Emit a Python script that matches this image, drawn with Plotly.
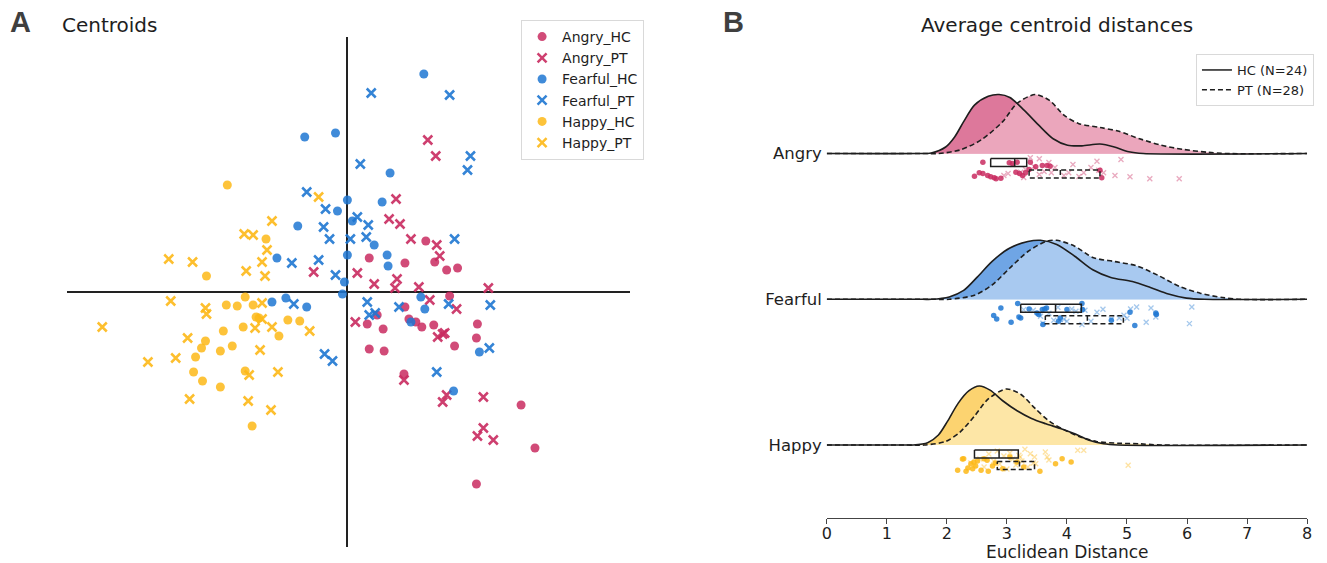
import plotly.graph_objects as go

# ---------------- Panel A: centroid coordinates (arbitrary units) ----------------
angry_hc_x = [7.9, 2.2, 5.8, 8.8, 10.0, 11.1, 10.3, 5.8, 3.0, 6.2, 6.9, 2.0, 3.6, 7.5, 8.7, 13.1, 13.0, 10.8, 2.2, 3.7, 5.7, 17.5, 18.9, 13.0]
angry_hc_y = [5.1, 3.4, 2.9, 3.0, 2.2, 2.4, -0.4, -1.5, -2.3, -2.7, -3.0, -3.2, -3.7, -3.5, -3.3, -3.2, -4.6, -5.4, -5.7, -5.9, -8.2, -11.3, -15.6, -19.2]

angry_pt_x = [4.9, 4.2, 5.3, 6.4, 9.0, 9.3, -3.4, 1.0, 2.7, 5.0, 4.8, 7.2, 8.3, 11.0, 14.2, 0.8, 9.1, 9.8, 8.1, 8.9, 5.7, 10.0, 9.6, 13.7, 13.7, 13.1, 14.7, 9.6]
angry_pt_y = [9.3, 7.3, 6.8, 5.3, 4.7, 3.6, 2.0, 1.9, 0.8, 1.3, 0.4, 0.5, -0.8, -1.7, 0.4, -3.0, -4.5, -4.1, 15.2, 13.6, -8.8, -10.3, -11.0, -10.5, -13.6, -14.4, -14.8, -4.2]

fearful_hc_x = [7.7, -4.3, -1.2, 4.3, 0.0, -1.0, 3.5, 0.5, -5.0, 2.7, 0.0, 4.0, 4.1, -7.1, -0.3, -0.5, -7.6, -6.2, -4.1, 7.4, 7.8, 6.4, 13.3, 10.7]
fearful_hc_y = [21.8, 15.5, 15.9, 11.9, 9.2, 8.1, 9.0, 7.1, 6.6, 4.7, 3.7, 3.7, 2.6, 3.4, 1.0, -0.2, -1.0, -0.6, -1.5, -0.5, -1.7, -3.0, -6.0, -9.9]

fearful_pt_x = [2.4, 10.3, 12.4, 12.1, 1.3, -4.1, -2.2, 1.0, 2.1, -2.4, -1.8, 0.3, 1.9, 10.8, -5.6, -2.9, -1.2, -5.4, 2.0, 2.2, 2.8, 5.2, 10.2, 14.4, 14.3, -2.3, -1.5, 9.0]
fearful_pt_y = [19.9, 19.7, 13.6, 12.2, 12.8, 10.0, 8.3, 7.5, 6.7, 6.5, 5.3, 5.3, 5.5, 5.3, 2.9, 3.2, 1.7, -1.2, -1.0, -2.3, -2.1, -1.5, -1.2, -1.3, -5.6, -6.2, -6.9, -8.0]

happy_hc_x = [-12.1, -8.2, -14.2, -10.3, -12.2, -11.1, -9.5, -9.2, -8.9, -10.5, -6.0, -4.8, -6.9, -12.5, -14.3, -14.7, -11.6, -12.8, -15.3, -15.5, -14.6, -12.8, -10.3, -9.6]
happy_hc_y = [10.7, 5.3, 1.6, -0.5, -1.3, -1.4, -1.3, -2.5, -2.6, -3.5, -2.8, -2.9, -4.4, -3.9, -4.9, -5.6, -5.4, -5.9, -6.5, -8.0, -8.9, -9.5, -7.9, -13.4]

happy_pt_x = [-2.9, -7.6, -10.4, -9.5, -8.1, -18.0, -15.6, -8.6, -10.2, -8.3, -17.8, -14.3, -14.2, -8.6, -8.6, -9.3, -7.6, -3.8, -24.7, -16.1, -17.3, -20.1, -8.8, -7.0, -9.9, -15.9, -10.0, -7.7]
happy_pt_y = [9.5, 7.1, 5.8, 5.7, 4.2, 3.3, 3.0, 3.0, 2.1, 1.6, -0.9, -1.6, -2.2, -1.1, -2.7, -3.6, -3.5, -3.9, -3.5, -4.6, -6.6, -7.0, -5.8, -8.0, -8.3, -10.7, -10.9, -11.8]

# ---------------- Panel B: distances ----------------
emotions = ["Angry", "Fearful", "Happy"]

angry_hc_dist = [2.60, 2.46, 2.54, 2.60, 2.68, 2.73, 2.79, 2.82, 2.90, 3.04, 3.09, 3.17, 3.15, 3.21, 3.26, 3.31, 3.37, 3.39, 3.48, 3.59, 3.67, 3.72, 4.58, 4.55]
angry_pt_dist = [3.39, 3.54, 4.50, 4.90, 3.02, 3.31, 3.23, 3.54, 3.74, 4.03, 4.28, 4.53, 4.61, 4.80, 5.05, 5.38, 5.87, 2.95, 3.10, 3.45, 3.62, 3.80, 3.95, 4.10, 4.20, 4.40, 3.70, 3.28]
fearful_hc_dist = [2.90, 2.78, 2.83, 3.07, 3.18, 3.20, 3.37, 3.50, 3.53, 3.59, 3.63, 3.66, 3.60, 3.86, 3.89, 4.00, 4.25, 4.26, 4.74, 5.05, 5.13, 5.48, 5.49, 3.23]
fearful_pt_dist = [3.44, 3.78, 3.89, 4.08, 4.50, 4.87, 5.06, 5.16, 5.32, 5.40, 5.48, 6.04, 6.08, 4.74, 4.25, 3.56, 4.00, 3.28, 3.70, 3.95, 4.15, 4.40, 4.60, 4.95, 3.60, 4.30, 5.00, 3.85]
happy_hc_dist = [2.18, 2.26, 2.28, 2.32, 2.35, 2.40, 2.43, 2.45, 2.48, 2.51, 2.57, 2.62, 2.67, 2.69, 2.76, 2.81, 2.93, 3.05, 3.17, 3.28, 3.55, 3.81, 3.92, 4.07]
happy_pt_dist = [2.40, 2.46, 2.55, 2.62, 2.70, 2.78, 2.84, 2.88, 2.95, 3.00, 3.05, 3.10, 3.15, 3.20, 3.22, 3.25, 3.30, 3.35, 3.39, 3.44, 3.46, 3.48, 3.64, 3.67, 3.70, 4.18, 4.28, 5.02]

# strip-plot jitter (offset below each row's baseline)
angry_hc_jit = [0.87, 2.27, 1.93, 2.0, 2.2, 2.33, 2.43, 2.53, 2.47, 0.93, 1.0, 0.87, 1.87, 2.0, 2.2, 1.93, 1.6, 0.87, 1.33, 1.2, 1.2, 1.27, 2.43, 1.67]
angry_pt_jit = [0.43, 0.53, 0.77, 0.6, 2.0, 1.6, 1.87, 2.1, 1.93, 1.93, 1.93, 1.67, 1.93, 2.2, 2.33, 2.53, 2.53, 2.2, 1.1, 1.3, 1.8, 1.4, 2.2, 1.1, 2.3, 1.4, 0.9, 2.4]
fearful_hc_jit = [0.87, 1.63, 1.97, 2.3, 0.43, 1.77, 0.97, 1.37, 1.53, 1.03, 0.97, 0.87, 2.53, 2.2, 1.87, 1.03, 0.43, 1.03, 2.1, 1.3, 2.63, 1.37, 1.53, 1.87]
fearful_pt_jit = [1.1, 2.1, 2.03, 0.97, 1.3, 1.87, 0.97, 0.77, 2.3, 0.87, 1.77, 2.43, 0.77, 1.97, 2.53, 1.7, 2.2, 1.03, 1.4, 2.0, 1.2, 2.2, 1.0, 1.6, 2.4, 1.1, 1.9, 0.8]
happy_hc_jit = [2.53, 1.4, 1.37, 2.63, 2.3, 1.87, 2.37, 1.7, 2.1, 1.6, 2.53, 1.37, 1.53, 2.63, 2.1, 1.8, 2.37, 1.2, 1.7, 2.2, 2.63, 1.87, 1.37, 1.7]
happy_pt_jit = [1.8, 2.03, 1.4, 2.2, 0.9, 1.6, 0.6, 1.9, 1.1, 2.4, 0.8, 1.4, 2.0, 1.03, 1.2, 1.6, 0.43, 2.2, 0.87, 1.8, 1.2, 1.87, 0.7, 1.2, 1.5, 0.53, 0.53, 2.03]

# box statistics (Angry, Fearful, Happy)
hc_q1 = [2.73, 3.23, 2.46]
hc_med = [3.13, 3.81, 2.87]
hc_q3 = [3.33, 4.24, 3.19]
pt_q1 = [3.37, 3.64, 2.84]
pt_med = [3.89, 4.34, 3.21]
pt_q3 = [4.55, 4.94, 3.46]

# density curves (relative density)
angry_hc_kx = [0, 1.5, 1.74, 1.98, 2.13, 2.28, 2.46, 2.69, 2.87, 3.05, 3.29, 3.53, 3.77, 4.01, 4.25, 4.55, 4.79, 5.03, 5.27, 8]
angry_hc_kd = [0, 0, 0.01, 0.11, 0.28, 0.54, 0.82, 0.97, 1.0, 0.95, 0.73, 0.48, 0.25, 0.14, 0.13, 0.16, 0.11, 0.03, 0.0, 0]
angry_pt_kx = [0, 1.6, 1.86, 2.22, 2.57, 2.93, 3.17, 3.47, 3.71, 3.95, 4.19, 4.55, 4.85, 5.21, 5.57, 5.93, 6.35, 6.65, 8]
angry_pt_kd = [0, 0, 0.0, 0.06, 0.23, 0.54, 0.85, 1.0, 0.90, 0.65, 0.51, 0.44, 0.38, 0.25, 0.14, 0.07, 0.02, 0, 0]
fearful_hc_kx = [0, 1.6, 1.74, 2.04, 2.28, 2.51, 2.75, 3.05, 3.35, 3.56, 3.83, 4.13, 4.43, 4.73, 5.09, 5.39, 5.69, 5.99, 6.29, 8]
fearful_hc_kd = [0, 0, 0.0, 0.04, 0.15, 0.38, 0.64, 0.87, 0.98, 1.0, 0.93, 0.73, 0.50, 0.37, 0.30, 0.20, 0.09, 0.02, 0, 0]
fearful_pt_kx = [0, 1.8, 2.04, 2.46, 2.75, 3.05, 3.35, 3.65, 3.83, 4.13, 4.43, 4.79, 5.15, 5.51, 5.87, 6.23, 6.59, 6.89, 8]
fearful_pt_kd = [0, 0, 0.0, 0.07, 0.24, 0.53, 0.81, 0.98, 1.0, 0.90, 0.71, 0.64, 0.57, 0.41, 0.22, 0.10, 0.03, 0, 0]
happy_hc_kx = [0, 1.3, 1.44, 1.68, 1.86, 2.01, 2.19, 2.37, 2.54, 2.72, 2.93, 3.17, 3.41, 3.65, 3.89, 4.13, 4.37, 4.61, 4.85, 8]
happy_hc_kd = [0, 0, 0.0, 0.04, 0.17, 0.40, 0.71, 0.92, 1.0, 0.93, 0.75, 0.58, 0.45, 0.36, 0.28, 0.19, 0.08, 0.02, 0, 0]
happy_pt_kx = [0, 1.4, 1.62, 1.98, 2.22, 2.46, 2.69, 2.99, 3.23, 3.47, 3.71, 3.95, 4.19, 4.49, 4.85, 5.21, 5.57, 8]
happy_pt_kd = [0, 0, 0.0, 0.06, 0.22, 0.49, 0.78, 0.95, 0.86, 0.62, 0.40, 0.26, 0.15, 0.06, 0.03, 0.02, 0, 0]

legend_b_labels = ["HC (N=24)", "PT (N=28)"]

# ---------------- styling ----------------
FONT = "DejaVu Sans"
INK = "#1e1e1e"
COL = {"Angry": "#c92b60", "Fearful": "#1f77d2", "Happy": "#fdb918"}
FILL_HC = {"Angry": "rgb(221,120,155)", "Fearful": "rgb(111,165,229)", "Happy": "rgb(252,211,112)"}
FILL_PT = {"Angry": "rgb(235,166,188)", "Fearful": "rgb(168,201,240)", "Happy": "rgb(253,230,166)"}
BASE = {"Angry": 36.45, "Fearful": 21.87, "Happy": 7.3}
DENS_H = 5.9
HC_BOX = (0.5, 1.3)
PT_BOX = (1.65, 2.45)
DASH = "5px,3px"

fig = go.Figure()

# ---- panel A scatter ----
sets_a = [
    ("Angry_HC", angry_hc_x, angry_hc_y, "Angry", "HC"),
    ("Angry_PT", angry_pt_x, angry_pt_y, "Angry", "PT"),
    ("Fearful_HC", fearful_hc_x, fearful_hc_y, "Fearful", "HC"),
    ("Fearful_PT", fearful_pt_x, fearful_pt_y, "Fearful", "PT"),
    ("Happy_HC", happy_hc_x, happy_hc_y, "Happy", "HC"),
    ("Happy_PT", happy_pt_x, happy_pt_y, "Happy", "PT"),
]
for name, xs, ys, emo, grp in sets_a:
    if grp == "HC":
        marker = dict(symbol="circle", size=9, color=COL[emo], opacity=0.85, line=dict(width=0))
    else:
        marker = dict(symbol="x-thin", size=9, color=COL[emo], opacity=0.9,
                      line=dict(width=2.5, color=COL[emo]))
    fig.add_trace(go.Scatter(x=xs, y=ys, mode="markers", name=name, marker=marker,
                             xaxis="x", yaxis="y", legend="legend", hoverinfo="skip"))

# ---- panel B raincloud ----
kde = {
    "Angry": (angry_hc_kx, angry_hc_kd, angry_pt_kx, angry_pt_kd),
    "Fearful": (fearful_hc_kx, fearful_hc_kd, fearful_pt_kx, fearful_pt_kd),
    "Happy": (happy_hc_kx, happy_hc_kd, happy_pt_kx, happy_pt_kd),
}
strips = {
    "Angry": (angry_hc_dist, angry_hc_jit, angry_pt_dist, angry_pt_jit),
    "Fearful": (fearful_hc_dist, fearful_hc_jit, fearful_pt_dist, fearful_pt_jit),
    "Happy": (happy_hc_dist, happy_hc_jit, happy_pt_dist, happy_pt_jit),
}
common = dict(xaxis="x2", yaxis="y2", showlegend=False, hoverinfo="skip")
for i, emo in enumerate(emotions):
    b = BASE[emo]
    hkx, hkd, pkx, pkd = kde[emo]
    hy = [b + DENS_H * d for d in hkd]
    py = [b + DENS_H * d for d in pkd]
    # fills
    fig.add_trace(go.Scatter(x=[0, 8], y=[b, b], mode="lines", line=dict(width=0), **common))
    fig.add_trace(go.Scatter(x=hkx, y=hy, mode="lines", line=dict(width=0, shape="spline", smoothing=0.8),
                             fill="tonexty", fillcolor=FILL_HC[emo], **common))
    fig.add_trace(go.Scatter(x=[0, 8], y=[b, b], mode="lines", line=dict(width=0), **common))
    fig.add_trace(go.Scatter(x=pkx, y=py, mode="lines", line=dict(width=0, shape="spline", smoothing=0.8),
                             fill="tonexty", fillcolor=FILL_PT[emo], **common))
    # outlines
    fig.add_trace(go.Scatter(x=pkx, y=py, mode="lines",
                             line=dict(color=INK, width=1.6, dash=DASH, shape="spline", smoothing=0.8), **common))
    fig.add_trace(go.Scatter(x=hkx, y=hy, mode="lines",
                             line=dict(color=INK, width=1.6, shape="spline", smoothing=0.8), **common))
    # strip points
    hd, hj, pd_, pj = strips[emo]
    fig.add_trace(go.Scatter(x=pd_, y=[b - j for j in pj], mode="markers",
                             marker=dict(symbol="x-thin", size=5, color=COL[emo], opacity=0.4,
                                         line=dict(width=1.3, color=COL[emo])), **common))
    fig.add_trace(go.Scatter(x=hd, y=[b - j for j in hj], mode="markers",
                             marker=dict(symbol="circle", size=5.5, color=COL[emo], opacity=0.85,
                                         line=dict(width=0)), **common))
    # boxes
    for q1, md, q3, (t, bt), dash in [
        (hc_q1[i], hc_med[i], hc_q3[i], HC_BOX, "solid"),
        (pt_q1[i], pt_med[i], pt_q3[i], PT_BOX, DASH),
    ]:
        yt, yb = b - t, b - bt
        fig.add_trace(go.Scatter(x=[q1, q3, q3, q1, q1, None, md, md],
                                 y=[yt, yt, yb, yb, yt, None, yt, yb], mode="lines",
                                 line=dict(color=INK, width=1.5, dash=dash), **common))

# legend B entries
fig.add_trace(go.Scatter(x=[None], y=[None], mode="lines", name=legend_b_labels[0],
                         line=dict(color=INK, width=1.5), xaxis="x2", yaxis="y2", legend="legend2"))
fig.add_trace(go.Scatter(x=[None], y=[None], mode="lines", name=legend_b_labels[1],
                         line=dict(color=INK, width=1.5, dash=DASH), xaxis="x2", yaxis="y2", legend="legend2"))

W, H = 1327, 563
fig.update_layout(
    width=W, height=H, autosize=False, margin=dict(l=0, r=0, t=0, b=0),
    paper_bgcolor="white", plot_bgcolor="white",
    font=dict(family=FONT, color=INK),
    xaxis=dict(domain=[62 / W, 630 / W], range=[-28.3, 28.5], anchor="y",
               showgrid=False, showticklabels=False, ticks="", showline=False,
               zeroline=True, zerolinecolor="#222", zerolinewidth=1.6, fixedrange=True),
    yaxis=dict(domain=[16 / H, 526 / H], range=[-25.5, 25.5], anchor="x",
               showgrid=False, showticklabels=False, ticks="", showline=False,
               zeroline=True, zerolinecolor="#222", zerolinewidth=1.6, fixedrange=True),
    xaxis2=dict(domain=[828 / W, 1312 / W], range=[0, 8], anchor="y2",
                showgrid=False, zeroline=False, showline=True, linecolor="#444", linewidth=1,
                ticks="outside", ticklen=5, tickwidth=1, tickcolor="#444",
                tickvals=list(range(9)), tickfont=dict(size=16, color=INK),
                ticklabelstandoff=-4),
    yaxis2=dict(domain=[45 / H, 523 / H], range=[0, 47.8], anchor="x2",
                showgrid=False, zeroline=False, showline=False, ticks="",
                tickvals=[BASE[e] for e in emotions], ticktext=emotions,
                tickfont=dict(size=16.5, color=INK), ticklabelstandoff=4),
    legend=dict(x=520 / W, y=1 - 20 / H, xanchor="left", yanchor="top", traceorder="normal",
                bordercolor="#d9d9d9", borderwidth=1, bgcolor="white",
                font=dict(size=14, color=INK)),
    legend2=dict(x=1200 / W, y=1 - 54 / H, xanchor="left", yanchor="top", traceorder="normal",
                 bordercolor="#d9d9d9", borderwidth=1, bgcolor="white",
                 font=dict(size=13, color=INK)),
    annotations=[
        dict(text="A", x=3 / W, y=1 - 22 / H, xref="paper", yref="paper", xanchor="left", yanchor="middle",
             showarrow=False, font=dict(family="Liberation Sans", size=29, color="#3f3f3f", weight="bold")),
        dict(text="Centroids", x=55 / W, y=1 - 25 / H, xref="paper", yref="paper", xanchor="left",
             yanchor="middle", showarrow=False, font=dict(size=20, color=INK)),
        dict(text="B", x=721 / W, y=1 - 22 / H, xref="paper", yref="paper", xanchor="left", yanchor="middle",
             showarrow=False, font=dict(family="Liberation Sans", size=29, color="#3f3f3f", weight="bold")),
        dict(text="Average centroid distances", x=1060 / W, y=1 - 25 / H, xref="paper", yref="paper",
             xanchor="center", yanchor="middle", showarrow=False, font=dict(size=20, color=INK)),
        dict(text="Euclidean Distance", x=1071 / W, y=1 - 552 / H, xref="paper", yref="paper",
             xanchor="center", yanchor="middle", showarrow=False, font=dict(size=17, color=INK)),
    ],
)

fig.write_html("out.html", config={"displayModeBar": False},
               post_script="document.body.style.margin='0px';document.body.style.overflow='hidden';")
